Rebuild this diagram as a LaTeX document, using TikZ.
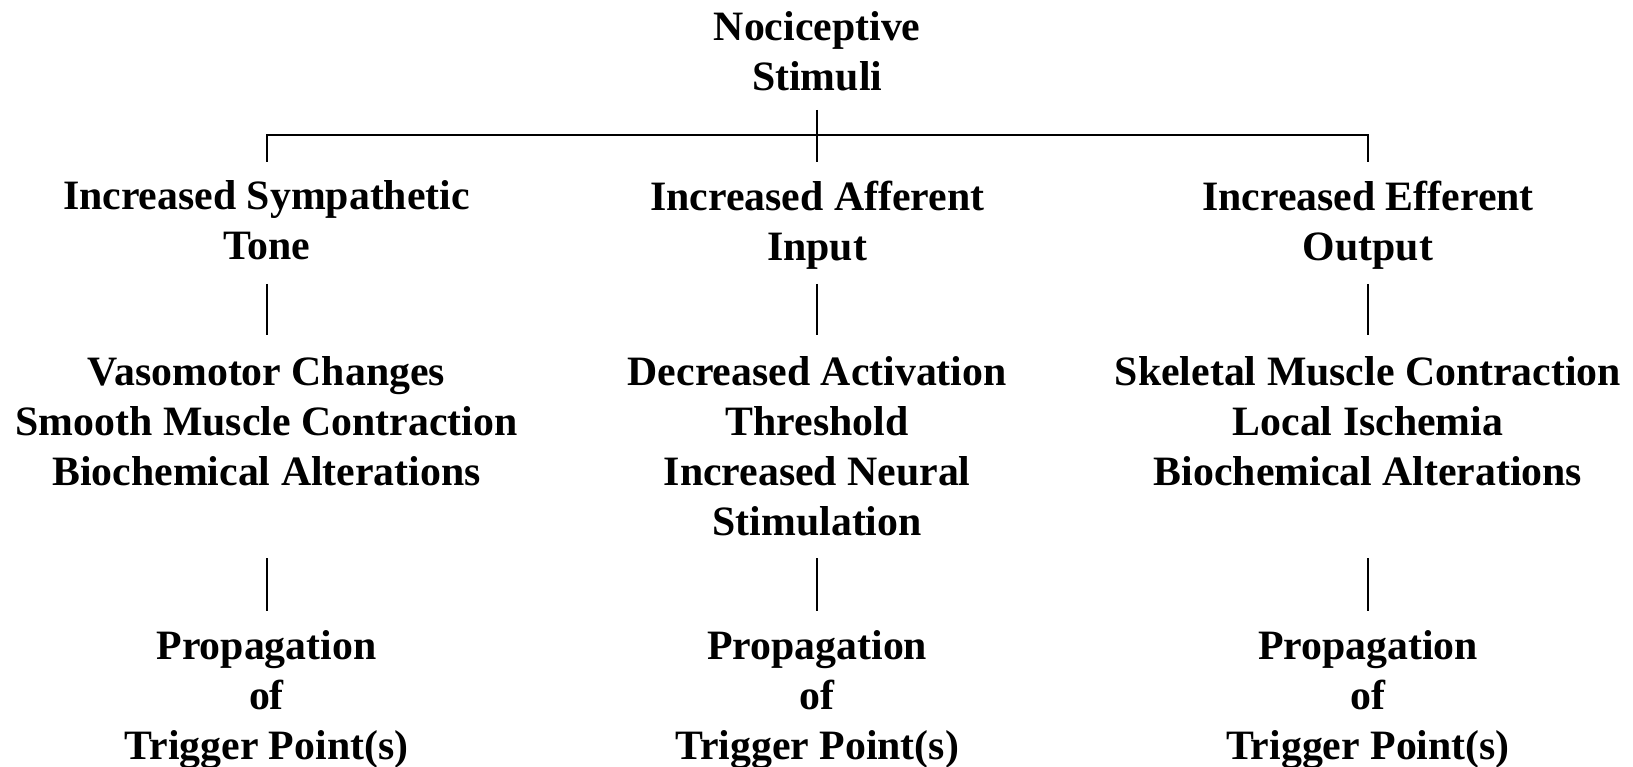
\documentclass[tikz,border=0pt]{standalone}
\usepackage{fontspec}
\setmainfont{Liberation Serif}
\begin{document}
\begin{tikzpicture}[x=1pt,y=1pt,
  lbl/.style={anchor=north, align=center, inner sep=0pt, font=\fontsize{41.8}{50}\selectfont\bfseries},
  conn/.style={line width=2pt, black}]
\useasboundingbox (0,0) rectangle (1633,-767);
% levels
\coordinate (ytop) at (0,-110);
\coordinate (yhub) at (0,-135.4);
\coordinate (ydrop) at (0,-161.7);
\coordinate (ya) at (0,-284);
\coordinate (yb) at (0,-335);
\coordinate (yc) at (0,-558);
\coordinate (yd) at (0,-611);
% nodes
\node[lbl] (top) at (817.2,-10.8) {Nociceptive\\Stimuli};
\node[lbl] (a1) at (266.5,-180.7) {Increased Sympathetic\\Tone};
\node[lbl] (b1) at (817.2,-180.7) {Increased Afferent\\Input};
\node[lbl] (c1) at (1368,-180.7) {Increased Efferent\\Output};
\node[lbl] (a2) at (266.5,-356) {Vasomotor Changes\\Smooth Muscle Contraction\\Biochemical Alterations};
\node[lbl] (b2) at (817.2,-356) {Decreased Activation\\Threshold\\Increased Neural\\Stimulation};
\node[lbl] (c2) at (1368,-356) {Skeletal Muscle Contraction\\Local Ischemia\\Biochemical Alterations};
\node[lbl] (a3) at (266.5,-630.7) {Propagation\\of\\Trigger Point(s)};
\node[lbl] (b3) at (817.2,-630.7) {Propagation\\of\\Trigger Point(s)};
\node[lbl] (c3) at (1368,-630.7) {Propagation\\of\\Trigger Point(s)};
% connectors
\draw[conn] (top |- ytop) -- (b1 |- ydrop);
\draw[conn] (a1 |- ydrop) -- (a1 |- yhub) -- (c1 |- yhub) -- (c1 |- ydrop);
\draw[conn] (a1 |- ya) -- (a2 |- yb);
\draw[conn] (b1 |- ya) -- (b2 |- yb);
\draw[conn] (c1 |- ya) -- (c2 |- yb);
\draw[conn] (a2 |- yc) -- (a3 |- yd);
\draw[conn] (b2 |- yc) -- (b3 |- yd);
\draw[conn] (c2 |- yc) -- (c3 |- yd);
\end{tikzpicture}
\end{document}
